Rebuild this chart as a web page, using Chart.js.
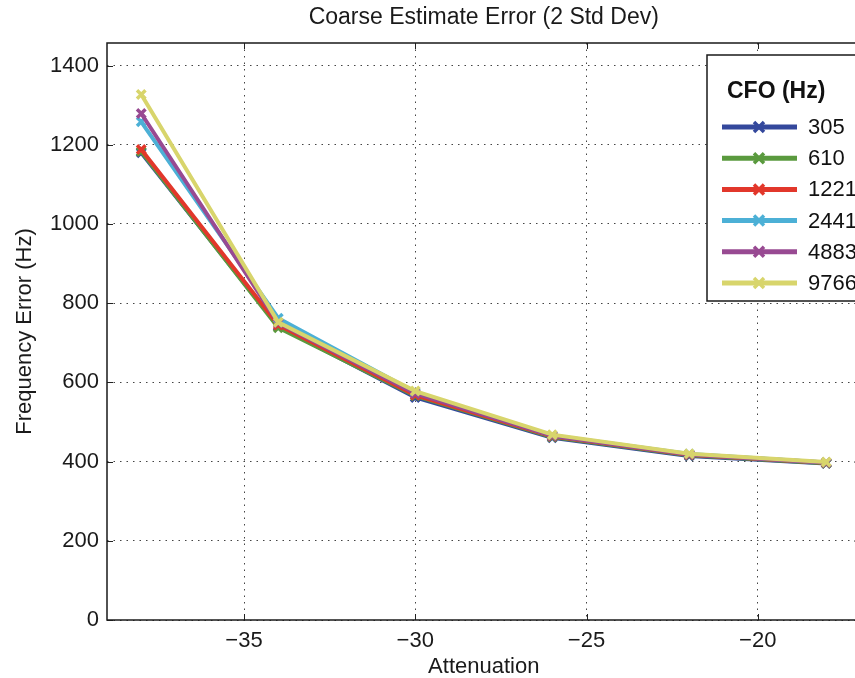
<!DOCTYPE html>
<html>
<head>
<meta charset="utf-8">
<script src="https://cdn.jsdelivr.net/npm/chart.js@4/dist/chart.umd.min.js"></script>
<style>
  html, body { margin: 0; padding: 0; background: #fff; overflow: hidden; width: 855px; height: 678px; }
  #wrap { width: 870px; height: 678px; }
</style>
</head>
<body>
<div id="wrap"><canvas id="c" width="870" height="678"></canvas></div>
<script>
// ---- data ----
const attenuation = [-38, -34, -30, -26, -22, -18];
const cfoLabels = ['305', '610', '1221', '2441', '4883', '9766'];
const err305  = [1180, 742, 562, 460, 414, 395];
const err610  = [1183, 738, 566, 462, 416, 396];
const err1221 = [1188, 745, 568, 464, 417, 397];
const err2441 = [1258, 762, 575, 466, 419, 398];
const err4883 = [1279, 750, 572, 465, 418, 398];
const err9766 = [1327, 752, 578, 468, 420, 399];
const xTicks = [-35, -30, -25, -20];
const yTicks = [0, 200, 400, 600, 800, 1000, 1200, 1400];
const titleText = 'Coarse Estimate Error (2 Std Dev)';
const xTitle = 'Attenuation';
const yTitle = 'Frequency Error (Hz)';
const legendTitle = 'CFO (Hz)';

const seriesValues = [err305, err610, err1221, err2441, err4883, err9766];
const colors = ['#34489c', '#5a9a3e', '#e2372b', '#4cb0d6', '#984a92', '#d8d56c'];

const FONT = "'Liberation Sans', Arial, Helvetica, sans-serif";

const datasets = seriesValues.map((vals, i) => ({
  label: cfoLabels[i],
  data: attenuation.map((x, j) => ({ x: x, y: vals[j] })),
  borderColor: colors[i],
  backgroundColor: colors[i],
  borderWidth: 4,
  pointStyle: 'crossRot',
  pointRadius: 6,
  pointBorderWidth: 3.5,
  pointBorderColor: colors[i],
  tension: 0,
  order: seriesValues.length - 1 - i
}));

const framePlugin = {
  id: 'frame',
  afterDatasetsDraw(chart) {
    const { ctx, chartArea: a, scales } = chart;
    ctx.save();
    ctx.strokeStyle = '#222';
    ctx.lineWidth = 1;
    const tl = 6;
    ctx.beginPath();
    xTicks.forEach(v => {
      const px = Math.round(scales.x.getPixelForValue(v)) + 0.5;
      ctx.moveTo(px, a.bottom); ctx.lineTo(px, a.bottom - tl);
      ctx.moveTo(px, a.top); ctx.lineTo(px, a.top + tl);
    });
    yTicks.forEach(v => {
      const py = Math.round(scales.y.getPixelForValue(v)) + 0.5;
      ctx.moveTo(a.left, py); ctx.lineTo(a.left + tl, py);
      ctx.moveTo(a.right, py); ctx.lineTo(a.right - tl, py);
    });
    ctx.stroke();
    ctx.strokeStyle = '#1a1a1a';
    ctx.lineWidth = 1.5;
    ctx.strokeRect(a.left, a.top, a.right - a.left, a.bottom - a.top);
    ctx.restore();
  },
  afterDraw(chart) {
    const { ctx, chartArea: a } = chart;
    ctx.save();
    ctx.fillStyle = '#1a1a1a';
    ctx.font = '23px ' + FONT;
    ctx.textAlign = 'center';
    ctx.textBaseline = 'middle';
    ctx.fillText(titleText, (a.left + a.right) / 2, 18);
    const lx = 707, ly = 55, lw = 170, lh = 246;
    ctx.fillStyle = '#fff';
    ctx.fillRect(lx, ly, lw, lh);
    ctx.strokeStyle = '#1a1a1a';
    ctx.lineWidth = 1.5;
    ctx.strokeRect(lx, ly, lw, lh);
    ctx.fillStyle = '#111';
    ctx.font = 'bold 23px ' + FONT;
    ctx.textAlign = 'left';
    ctx.fillText(legendTitle, 727, 92);
    chart.data.datasets.forEach((ds, i) => {
      const y = 127 + i * 31.2;
      ctx.strokeStyle = ds.borderColor;
      ctx.lineWidth = 5;
      ctx.beginPath();
      ctx.moveTo(722, y); ctx.lineTo(797, y);
      ctx.stroke();
      ctx.lineWidth = 3.5;
      const r = 5;
      ctx.beginPath();
      ctx.moveTo(759 - r, y - r); ctx.lineTo(759 + r, y + r);
      ctx.moveTo(759 - r, y + r); ctx.lineTo(759 + r, y - r);
      ctx.stroke();
      ctx.fillStyle = '#111';
      ctx.font = '22px ' + FONT;
      ctx.fillText(ds.label, 808, y + 1);
    });
    ctx.restore();
  }
};

new Chart(document.getElementById('c'), {
  type: 'line',
  data: { datasets },
  options: {
    responsive: false,
    animation: false,
    layout: { padding: { top: 43, right: 8, left: 0, bottom: 0 } },
    plugins: { legend: { display: false }, title: { display: false }, tooltip: { enabled: false } },
    scales: {
      x: {
        type: 'linear',
        min: -39, max: -17,
        afterBuildTicks: s => { s.ticks = xTicks.map(v => ({ value: v })); },
        afterFit: s => { s.height = 58; },
        grid: { color: '#444', lineWidth: 1, drawTicks: false },
        border: { display: false, dash: [1.5, 5] },
        ticks: {
          padding: 8,
          color: '#1a1a1a',
          font: { family: FONT, size: 22 },
          maxRotation: 0,
          callback: v => String(v).replace('-', '\u2212')
        },
        title: { display: true, text: xTitle, color: '#1a1a1a', font: { family: FONT, size: 22, lineHeight: 1 }, padding: { top: 0, bottom: 0 } }
      },
      y: {
        type: 'linear',
        min: 0, max: 1457,
        afterBuildTicks: s => { s.ticks = yTicks.map(v => ({ value: v })); },
        afterFit: s => { s.width = 107; },
        grid: { color: '#444', lineWidth: 1, drawTicks: false },
        border: { display: false, dash: [1.5, 5] },
        ticks: {
          padding: 8,
          color: '#1a1a1a',
          font: { family: FONT, size: 22 },
          callback: v => String(v)
        },
        title: { display: true, text: yTitle, color: '#1a1a1a', font: { family: FONT, size: 22, lineHeight: 1 }, padding: { top: 14, bottom: 0 } }
      }
    }
  },
  plugins: [framePlugin]
});
</script>
</body>
</html>
